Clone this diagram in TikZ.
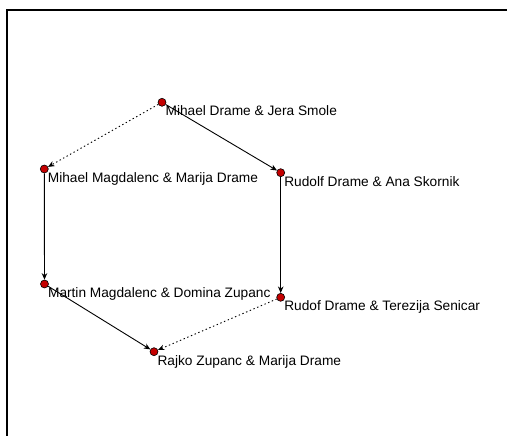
\documentclass[tikz,border=0pt]{standalone}
\usepackage{fontspec}
\setmainfont{Liberation Sans}
\usepackage{tikz}
\usetikzlibrary{arrows.meta}
\definecolor{dotred}{RGB}{196,0,0}
\tikzset{
  person/.style={circle, draw=black, fill=dotred, line width=0.6pt, inner sep=0pt, minimum size=8pt},
  lbl/.style={inner sep=0pt, label distance=0.5pt, font=\fontsize{13.7}{16}\selectfont},
  tie/.style={black, line width=0.9pt, -{Stealth[length=6.5pt,width=5.5pt,inset=2pt]}},
  loose/.style={black, line width=0.9pt, dash pattern=on 1.4pt off 2.6pt, -{Stealth[length=6.5pt,width=5.5pt,inset=2pt]}}
}

\begin{document}
\begin{tikzpicture}[x=1pt, y=1pt]
\useasboundingbox (0,0) rectangle (507,436);
\draw[line width=2pt] (7.3,0)--(7.3,426)--(507,426);
% couples
\node[person, label={[lbl]below right:Mihael Drame \& Jera Smole}] (mdjs) at (162,333.7) {};
\node[person, label={[lbl]below right:Mihael Magdalenc \& Marija Drame}] (mmmd) at (44.3,267) {};
\node[person, label={[lbl]below right:Rudolf Drame \& Ana Skornik}] (rdas) at (280.7,263.3) {};
\node[person, label={[lbl]below right:Martin Magdalenc \& Domina Zupanc}] (mmdz) at (44.5,152) {};
\node[person, label={[lbl]below right:Rudof Drame \& Terezija Senicar}] (rdts) at (280.7,138.7) {};
\node[person, label={[lbl]below right:Rajko Zupanc \& Marija Drame}] (rzmd) at (154,84.3) {};
% links
\draw[tie] (mdjs)--(rdas);
\draw[loose] (mdjs)--(mmmd);
\draw[tie] (mmmd)--(mmdz);
\draw[tie] (rdas)--(rdts);
\draw[tie] (mmdz)--(rzmd);
\draw[loose] (rdts)--(rzmd);
\end{tikzpicture}
\end{document}
